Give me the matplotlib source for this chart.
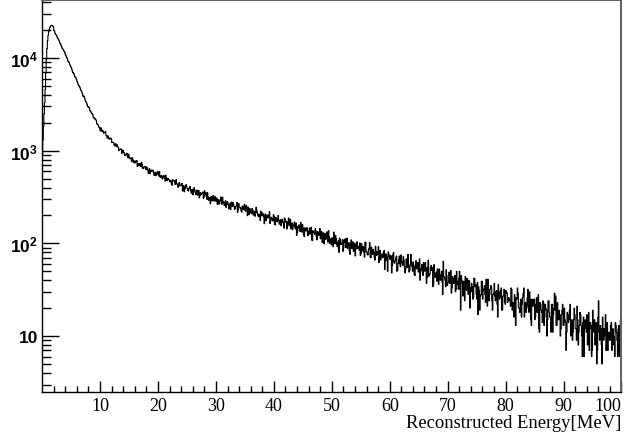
"""Reconstructed energy spectrum (log y), redrawn from a ROOT canvas.

Bin contents were read off the picture: 1000 bins of 0.1 MeV from 0 to 100 MeV.
The figure is saved to ``out.png``.
"""

import numpy as np
import matplotlib

matplotlib.use("Agg")
import matplotlib.pyplot as plt
from matplotlib.ticker import FixedLocator, FixedFormatter, NullFormatter

E_MIN, E_MAX = 0.0, 100.0

# counts per 0.1 MeV bin, one row = 2 MeV
counts = [
    900, 1300, 1800, 2500, 3300, 4600, 6800, 9600, 12600, 15300, 17500, 19200, 20400, 21300, 21900, 22300, 22500, 22400, 22100, 21500,
    19850, 19330, 18500, 17960, 17700, 17150, 16520, 16100, 15810, 15290, 14590, 14240, 13850, 13410, 12790, 12500, 12360, 11970, 11700, 11340,
    10800, 10480, 10170, 9790, 9359, 9120, 9004, 8640, 8300, 8070, 7825, 7500, 7092, 6930, 6867, 6580, 6314, 6160, 6091, 5830,
    5568, 5370, 5148, 5010, 4965, 4760, 4556, 4440, 4312, 4120, 3905, 3820, 3873, 3690, 3488, 3390, 3305, 3170, 3023, 2950,
    2977, 2880, 2715, 2660, 2604, 2520, 2520, 2430, 2285, 2240, 2254, 2170, 2189, 2100, 1953, 1920, 1908, 1840, 1780, 1740,
    1632, 1768, 1712, 1606, 1634, 1634, 1543, 1563, 1576, 1606, 1461, 1438, 1365, 1448, 1403, 1332, 1338, 1345, 1370, 1330,
    1225, 1235, 1229, 1218, 1149, 1121, 1187, 1181, 1107, 1160, 1112, 1076, 1001, 1026, 1042, 1045, 1039, 934, 957, 1016,
    963, 950, 887, 890, 902, 926, 938, 869, 835, 917, 847, 821, 819, 836, 765, 838, 813, 743, 778, 770,
    736, 747, 783, 778, 673, 711, 723, 688, 727, 711, 673, 749, 710, 645, 639, 668, 669, 674, 640, 622,
    670, 650, 614, 566, 620, 639, 564, 597, 617, 598, 616, 616, 576, 542, 585, 585, 536, 557, 578, 597,
    549, 535, 598, 522, 514, 540, 533, 494, 506, 541, 538, 504, 469, 545, 511, 476, 482, 502, 491, 480,
    460, 479, 473, 434, 423, 488, 472, 470, 474, 432, 433, 488, 442, 432, 403, 407, 453, 442, 418, 420,
    426, 444, 367, 397, 420, 360, 387, 407, 430, 414, 389, 373, 366, 390, 402, 410, 370, 347, 380, 383,
    334, 363, 399, 378, 349, 336, 359, 376, 330, 340, 371, 310, 328, 352, 335, 341, 350, 358, 305, 316,
    370, 340, 352, 318, 298, 354, 318, 291, 302, 313, 267, 316, 321, 287, 307, 329, 287, 287, 319, 286,
    287, 309, 263, 293, 297, 265, 284, 294, 317, 267, 264, 315, 280, 273, 256, 279, 288, 244, 262, 283,
    278, 257, 235, 263, 268, 231, 279, 272, 250, 277, 264, 249, 233, 238, 250, 259, 277, 216, 231, 269,
    246, 246, 239, 224, 217, 251, 252, 231, 241, 264, 224, 222, 255, 239, 199, 247, 232, 204, 239, 227,
    213, 210, 238, 230, 202, 218, 222, 196, 210, 245, 230, 214, 201, 194, 206, 196, 177, 223, 211, 198,
    213, 207, 193, 163, 201, 208, 175, 186, 202, 190, 188, 203, 220, 164, 174, 191, 187, 179, 174, 204,
    195, 160, 158, 191, 185, 172, 171, 200, 178, 161, 178, 180, 155, 168, 182, 171, 164, 146, 188, 181,
    169, 173, 143, 151, 171, 188, 158, 155, 182, 143, 147, 166, 140, 154, 158, 170, 148, 143, 166, 122,
    131, 152, 147, 158, 137, 134, 168, 147, 132, 160, 147, 123, 118, 147, 137, 136, 147, 147, 121, 122,
    135, 147, 126, 126, 149, 109, 107, 137, 134, 131, 125, 144, 137, 118, 109, 134, 132, 122, 124, 145,
    112, 126, 134, 102, 112, 130, 99, 114, 128, 110, 113, 133, 119, 103, 137, 118, 100, 112, 106, 96,
    115, 108, 92, 132, 109, 99, 122, 113, 98, 92, 103, 107, 80, 114, 110, 97, 98, 101, 110, 82,
    89, 109, 102, 112, 90, 95, 114, 88, 91, 102, 83, 76, 98, 109, 88, 96, 104, 82, 92, 100,
    73, 86, 99, 104, 88, 93, 90, 84, 101, 74, 78, 99, 83, 91, 92, 80, 71, 103, 103, 81,
    81, 75, 75, 86, 89, 102, 71, 70, 91, 81, 76, 86, 81, 71, 66, 93, 82, 74, 76, 81,
    92, 62, 69, 84, 66, 74, 77, 70, 70, 81, 84, 52, 65, 77, 72, 65, 50, 81, 77, 71,
    67, 74, 73, 48, 58, 75, 80, 63, 61, 65, 69, 73, 50, 51, 61, 67, 73, 60, 56, 75,
    64, 61, 58, 72, 66, 56, 48, 53, 68, 62, 55, 76, 60, 49, 51, 58, 76, 63, 56, 50,
    63, 57, 46, 45, 59, 65, 53, 59, 62, 49, 59, 68, 40, 51, 54, 59, 49, 45, 62, 54,
    50, 62, 55, 37, 43, 55, 66, 44, 45, 47, 55, 58, 51, 55, 34, 36, 59, 48, 43, 44,
    49, 39, 53, 44, 36, 53, 44, 40, 46, 50, 38, 28, 64, 44, 43, 40, 34, 52, 45, 35,
    38, 38, 49, 37, 43, 51, 29, 33, 44, 42, 37, 39, 45, 30, 32, 50, 39, 36, 32, 42,
    50, 32, 19, 45, 40, 37, 27, 39, 34, 24, 44, 32, 31, 42, 37, 28, 40, 39, 20, 33,
    30, 37, 34, 25, 26, 42, 42, 34, 36, 28, 25, 38, 17, 34, 31, 19, 27, 28, 39, 39,
    25, 31, 32, 35, 28, 23, 41, 28, 21, 41, 32, 24, 28, 32, 35, 34, 24, 19, 28, 29,
    37, 27, 24, 30, 31, 22, 16, 36, 30, 25, 26, 31, 33, 19, 19, 27, 27, 32, 23, 22,
    31, 30, 29, 23, 24, 26, 25, 24, 21, 33, 32, 19, 23, 21, 16, 28, 18, 13, 26, 25,
    33, 29, 20, 20, 18, 23, 25, 16, 22, 26, 29, 33, 16, 21, 23, 18, 20, 26, 32, 21,
    18, 30, 25, 15, 13, 25, 21, 21, 25, 25, 15, 16, 22, 26, 18, 18, 28, 12, 11, 23,
    22, 19, 18, 14, 24, 23, 13, 16, 22, 20, 19, 10, 15, 24, 24, 18, 16, 16, 11, 22,
    22, 11, 17, 20, 29, 19, 27, 13, 13, 23, 15, 15, 19, 17, 10, 12, 17, 19, 22, 13,
    13, 20, 15, 14, 7, 11, 18, 17, 14, 15, 19, 22, 10, 11, 15, 9, 11, 15, 20, 17,
    12, 12, 9, 21, 15, 8, 11, 13, 18, 17, 13, 10, 6, 14, 16, 6, 12, 15, 13, 11,
    17, 8, 9, 18, 7, 12, 14, 13, 6, 7, 19, 14, 11, 15, 8, 10, 14, 5, 7, 16,
    24, 11, 9, 13, 12, 8, 5, 16, 12, 9, 10, 12, 17, 7, 8, 14, 7, 10, 11, 9,
    9, 13, 14, 7, 8, 12, 10, 8, 6, 14, 13, 11, 9, 6, 12, 13, 6, 9, 15, 16,
]

x_ticks = [10, 20, 30, 40, 50, 60, 70, 80, 90, 100]
x_tick_labels = ["10", "20", "30", "40", "50", "60", "70", "80", "90", "100"]
y_ticks = [10, 100, 1000, 10000]
y_tick_labels = ["10", r"$10^{2}$", r"$10^{3}$", r"$10^{4}$"]
x_label = "Reconstructed Energy[MeV]"
y_range = (2.51, 41700)


def main() -> None:
    plt.rcParams["mathtext.fontset"] = "custom"
    plt.rcParams["mathtext.rm"] = "Liberation Sans:bold"
    plt.rcParams["mathtext.it"] = "Liberation Sans:bold"
    plt.rcParams["mathtext.bf"] = "Liberation Sans:bold"

    fig = plt.figure(figsize=(6.35, 4.39), dpi=100)
    ax = fig.add_axes([0.0663, 0.1055, 0.9124, 0.8911])

    edges = np.linspace(E_MIN, E_MAX, len(counts) + 1)
    ax.stairs(counts, edges, color="black", linewidth=0.8, baseline=None)

    ax.set_yscale("log")
    ax.set_xlim(E_MIN, E_MAX)
    ax.set_ylim(*y_range)

    # ticks: ROOT style, inward, left/bottom only
    ax.xaxis.set_major_locator(FixedLocator(x_ticks))
    ax.xaxis.set_major_formatter(FixedFormatter(x_tick_labels))
    ax.xaxis.set_minor_locator(FixedLocator(np.arange(2, 100, 2)))
    ax.yaxis.set_major_locator(FixedLocator(y_ticks))
    ax.yaxis.set_major_formatter(FixedFormatter(y_tick_labels))
    minor_y = [m * 10.0 ** d for d in range(0, 5) for m in range(2, 10)]
    ax.yaxis.set_minor_locator(FixedLocator(minor_y))
    ax.yaxis.set_minor_formatter(NullFormatter())

    ax.tick_params(axis="x", which="major", direction="in", length=8,
                   width=1.0, pad=4, top=False)
    ax.tick_params(axis="x", which="minor", direction="in", length=4.3,
                   width=1.0, top=False)
    ax.tick_params(axis="y", which="major", direction="in", length=12.5,
                   width=1.0, pad=3, right=False)
    ax.tick_params(axis="y", which="minor", direction="in", length=6.5,
                   width=1.0, right=False)

    xlabels = ax.get_xticklabels()
    for lab in xlabels:
        lab.set_fontfamily("Liberation Serif")
        lab.set_fontsize(13)
    # the last label sits inside the frame, as on the canvas
    xlabels[-1].set_horizontalalignment("right")
    for lab in ax.get_yticklabels():
        lab.set_fontfamily("Liberation Sans")
        lab.set_fontweight("bold")
        lab.set_fontsize(12.5)

    ax.set_xlabel(x_label, loc="right", fontfamily="Liberation Serif",
                  fontsize=13.4, labelpad=0)

    for side in ("left", "bottom"):
        ax.spines[side].set_color("black")
        ax.spines[side].set_linewidth(1.0)
    for side in ("top", "right"):
        ax.spines[side].set_color("#606060")
        ax.spines[side].set_linewidth(1.4)

    fig.savefig("out.png", dpi=100)
    print(f"Saved out.png ({len(counts)} bins)")


if __name__ == "__main__":
    main()
